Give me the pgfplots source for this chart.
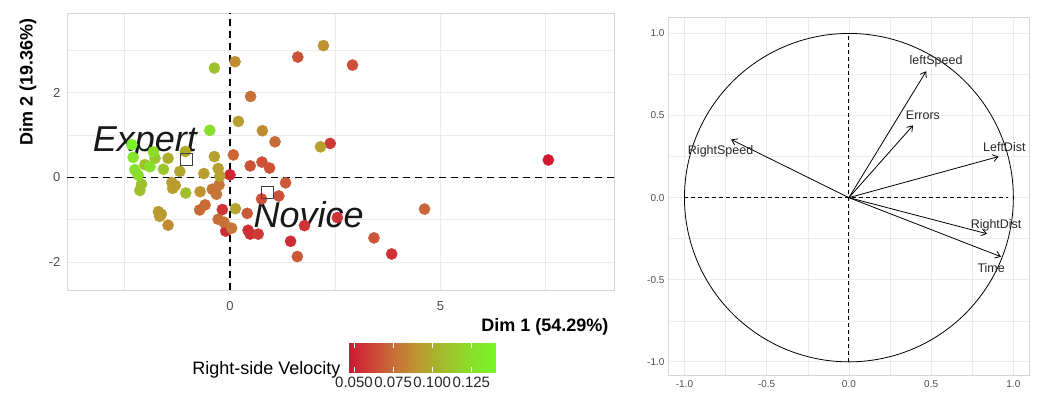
\documentclass[border=0pt]{standalone}
\usepackage{pgfplots}
\pgfplotsset{compat=1.18}
\usepackage{pgfplotstable}
\usepackage{fontspec}
\setmainfont{Liberation Sans}
\usetikzlibrary{arrows.meta}
\definecolor{tickgray}{HTML}{4D4D4D}
\definecolor{gridgray}{HTML}{EBEBEB}
\definecolor{bordergray}{HTML}{D6D6D6}
\pgfplotsset{
  colormap={vel}{rgb255(0pt)=(208,22,52); rgb255(132pt)=(205,64,55); rgb255(282pt)=(200,110,55); rgb255(432pt)=(190,150,48); rgb255(532pt)=(172,174,45); rgb255(782pt)=(137,224,42); rgb255(940pt)=(120,246,42)},
}

\pgfplotstableread{
x y c
7.56 0.41 0.048
0.00 0.06 0.052
2.38 0.80 0.058
-0.18 -0.76 0.056
-0.10 -1.27 0.054
0.43 -1.25 0.055
0.48 -1.34 0.055
0.67 -1.34 0.058
1.44 -1.51 0.054
1.77 -1.14 0.056
2.55 -0.95 0.056
3.84 -1.81 0.055
1.61 2.84 0.066
2.91 2.65 0.065
0.48 0.27 0.066
0.76 0.36 0.066
0.94 0.22 0.066
1.32 -0.13 0.068
1.16 -0.44 0.066
0.75 -0.51 0.066
1.60 -1.87 0.068
3.42 -1.43 0.067
0.41 -0.85 0.068
0.49 1.91 0.076
1.07 0.84 0.074
0.08 0.53 0.072
4.62 -0.75 0.072
-0.72 -0.77 0.074
-0.59 -0.65 0.074
-0.28 -0.99 0.074
-0.14 -1.06 0.076
0.04 -1.20 0.078
-0.42 -0.28 0.078
-0.34 -0.36 0.076
-0.26 -0.18 0.078
-0.32 -0.40 0.078
2.22 3.11 0.088
0.12 2.73 0.086
0.77 1.10 0.086
-0.71 -0.34 0.088
-1.47 -1.13 0.085
0.20 1.32 0.094
2.15 0.72 0.094
-0.37 0.49 0.094
-1.06 0.61 0.098
-0.28 0.21 0.094
-0.24 0.03 0.094
-0.62 0.09 0.094
-1.19 0.14 0.096
0.13 -0.74 0.096
-1.38 -0.12 0.094
-1.36 -0.26 0.094
-1.30 -0.19 0.092
-1.70 -0.81 0.092
-1.63 -0.87 0.092
-1.67 -0.92 0.092
-1.47 0.45 0.100
-0.37 2.58 0.110
-1.05 -0.37 0.108
-1.58 0.19 0.112
-2.02 0.30 0.110
-2.10 -0.16 0.110
-2.14 -0.31 0.108
-1.78 0.45 0.112
-0.48 1.11 0.125
-1.82 0.60 0.122
-2.30 0.47 0.128
-1.90 0.25 0.125
-2.26 0.18 0.126
-2.18 0.05 0.124
-2.33 0.77 0.138
}\pointsdata

\begin{document}
\begin{tikzpicture}[x=1pt,y=1pt]
\useasboundingbox (0,0) rectangle (1037,392);
% ---------------- left: individuals ----------------
\begin{axis}[
  at={(67pt,102pt)}, anchor=south west, scale only axis,
  width=547pt, height=277pt,
  xmin=-3.87, xmax=9.12, ymin=-2.66, ymax=3.88,
  xtick={0,5}, ytick={-2,0,2},
  minor xtick={-2.5,2.5,7.5}, minor ytick={-1,1,3},
  grid=both,
  major grid style={gridgray, line width=0.9pt},
  minor grid style={gridgray, line width=0.6pt},
  axis line style={bordergray, line width=0.9pt},
  tick style={draw=none},
  ticklabel style={font=\fontsize{13}{13}\selectfont, text=tickgray},
  yticklabel style={xshift=-3pt},
  xticklabel style={yshift=-8pt},
  /pgf/number format/assume math mode=true,
  colormap name=vel,
  point meta min=0.0468, point meta max=0.1408,
]
\addplot[black, line width=1.3pt, dash pattern=on 7pt off 5pt] coordinates {(-3.87,0) (9.12,0)};
\addplot[black, line width=1.3pt, dash pattern=on 7pt off 5pt] coordinates {(0,-2.66) (0,3.88)};
\addplot[scatter, only marks, mark=*, mark size=5.6pt,
  scatter/use mapped color={draw=mapped color, fill=mapped color},
  point meta=explicit] table[x=x, y=y, meta=c]{\pointsdata};
\addplot[only marks, mark=square, mark size=6.2pt, black!75, line width=0.6pt]
  coordinates {(-1.03,0.43) (0.89,-0.35)};
\node[anchor=base, font=\fontsize{36}{36}\selectfont\itshape, text=black!90] at (axis cs:-2.02,0.60) {Expert};
\node[anchor=base, font=\fontsize{36}{36}\selectfont\itshape, text=black!90] at (axis cs:1.87,-1.175) {Novice};
\end{axis}
\node[rotate=90, font=\bfseries\fontsize{18}{18}\selectfont] at (28,310) {Dim 2 (19.36\%)};
\node[anchor=east, font=\bfseries\fontsize{18}{18}\selectfont] at (612,65) {Dim 1 (54.29\%)};
\node[anchor=east, font=\fontsize{18}{18}\selectfont] at (344,22) {Right-side Velocity};
% ---------------- colour bar ----------------
\begin{axis}[
  at={(349pt,20pt)}, anchor=south west, scale only axis,
  width=147pt, height=29pt,
  xmin=0.0468, xmax=0.1408, ymin=0, ymax=1,
  view={0}{90},
  colormap name=vel,
  point meta min=0.0468, point meta max=0.1408,
  axis line style={draw=none},
  ytick=\empty,
  xtick={0.05,0.075,0.1,0.125},
  xticklabels={0.050,0.075,0.100,0.125},
  major tick length=5pt, tick align=inside,
  xtick pos=both, xticklabel pos=lower,
  tick style={white, line width=0.8pt},
  xticklabel style={font=\fontsize{15}{15}\selectfont, text=black!85, anchor=north, yshift=-1pt},
  clip=false,
]
\addplot3[surf, shader=interp, point meta=x] coordinates {
(0.0468,0,0) (0.0522,0,0) (0.0600,0,0) (0.0650,0,0) (0.0700,0,0) (0.0750,0,0) (0.0800,0,0) (0.0850,0,0) (0.0900,0,0) (0.0950,0,0) (0.1000,0,0) (0.1050,0,0) (0.1100,0,0) (0.1150,0,0) (0.1200,0,0) (0.1250,0,0) (0.1300,0,0) (0.1350,0,0) (0.1408,0,0)

(0.0468,1,0) (0.0522,1,0) (0.0600,1,0) (0.0650,1,0) (0.0700,1,0) (0.0750,1,0) (0.0800,1,0) (0.0850,1,0) (0.0900,1,0) (0.0950,1,0) (0.1000,1,0) (0.1050,1,0) (0.1100,1,0) (0.1150,1,0) (0.1200,1,0) (0.1250,1,0) (0.1300,1,0) (0.1350,1,0) (0.1408,1,0)
};
\end{axis}
% ---------------- right: variables ----------------
\begin{axis}[
  at={(668pt,17pt)}, anchor=south west, scale only axis,
  width=361pt, height=358pt,
  xmin=-1.10, xmax=1.095, ymin=-1.08, ymax=1.10,
  xtick={-1,-0.5,0,0.5,1}, ytick={-1,-0.5,0,0.5,1},
  xticklabels={-1.0,-0.5,0.0,0.5,1.0}, yticklabels={-1.0,-0.5,0.0,0.5,1.0},
  minor xtick={-0.75,-0.25,0.25,0.75}, minor ytick={-0.75,-0.25,0.25,0.75},
  grid=both,
  major grid style={gridgray, line width=0.8pt},
  minor grid style={gridgray, line width=0.5pt},
  axis line style={bordergray, line width=0.8pt},
  tick style={draw=none},
  ticklabel style={font=\fontsize{10}{10}\selectfont, text=tickgray},
  xticklabel style={yshift=-2pt},
]
\addplot[black, line width=0.9pt, dash pattern=on 4pt off 3pt] coordinates {(-1,0) (0.97,0)};
\addplot[black, line width=0.9pt, dash pattern=on 4pt off 3pt] coordinates {(0,-1) (0,1)};
\addplot[black, line width=0.8pt, domain=0:360, samples=181] ({cos(x)},{sin(x)});
\addplot[black, line width=0.8pt, -{Straight Barb[length=5pt,width=7pt]}] coordinates {(0,0) (0.47,0.77)};
\addplot[black, line width=0.8pt, -{Straight Barb[length=5pt,width=7pt]}] coordinates {(0,0) (0.39,0.44)};
\addplot[black, line width=0.8pt, -{Straight Barb[length=5pt,width=7pt]}] coordinates {(0,0) (0.91,0.25)};
\addplot[black, line width=0.8pt, -{Straight Barb[length=5pt,width=7pt]}] coordinates {(0,0) (-0.716,0.354)};
\addplot[black, line width=0.8pt, -{Straight Barb[length=5pt,width=7pt]}] coordinates {(0,0) (0.84,-0.22)};
\addplot[black, line width=0.8pt, -{Straight Barb[length=5pt,width=7pt]}] coordinates {(0,0) (0.925,-0.36)};
\node[font=\fontsize{12.5}{12.5}\selectfont, text=black!85] at (axis cs:0.53,0.83) {leftSpeed};
\node[font=\fontsize{12.5}{12.5}\selectfont, text=black!85] at (axis cs:0.45,0.50) {Errors};
\node[font=\fontsize{12.5}{12.5}\selectfont, text=black!85] at (axis cs:0.945,0.31) {LeftDist};
\node[font=\fontsize{12.5}{12.5}\selectfont, text=black!85] at (axis cs:-0.78,0.28) {RightSpeed};
\node[font=\fontsize{12.5}{12.5}\selectfont, text=black!85] at (axis cs:0.895,-0.17) {RightDist};
\node[font=\fontsize{12.5}{12.5}\selectfont, text=black!85] at (axis cs:0.865,-0.43) {Time};
\end{axis}
\end{tikzpicture}
\end{document}
